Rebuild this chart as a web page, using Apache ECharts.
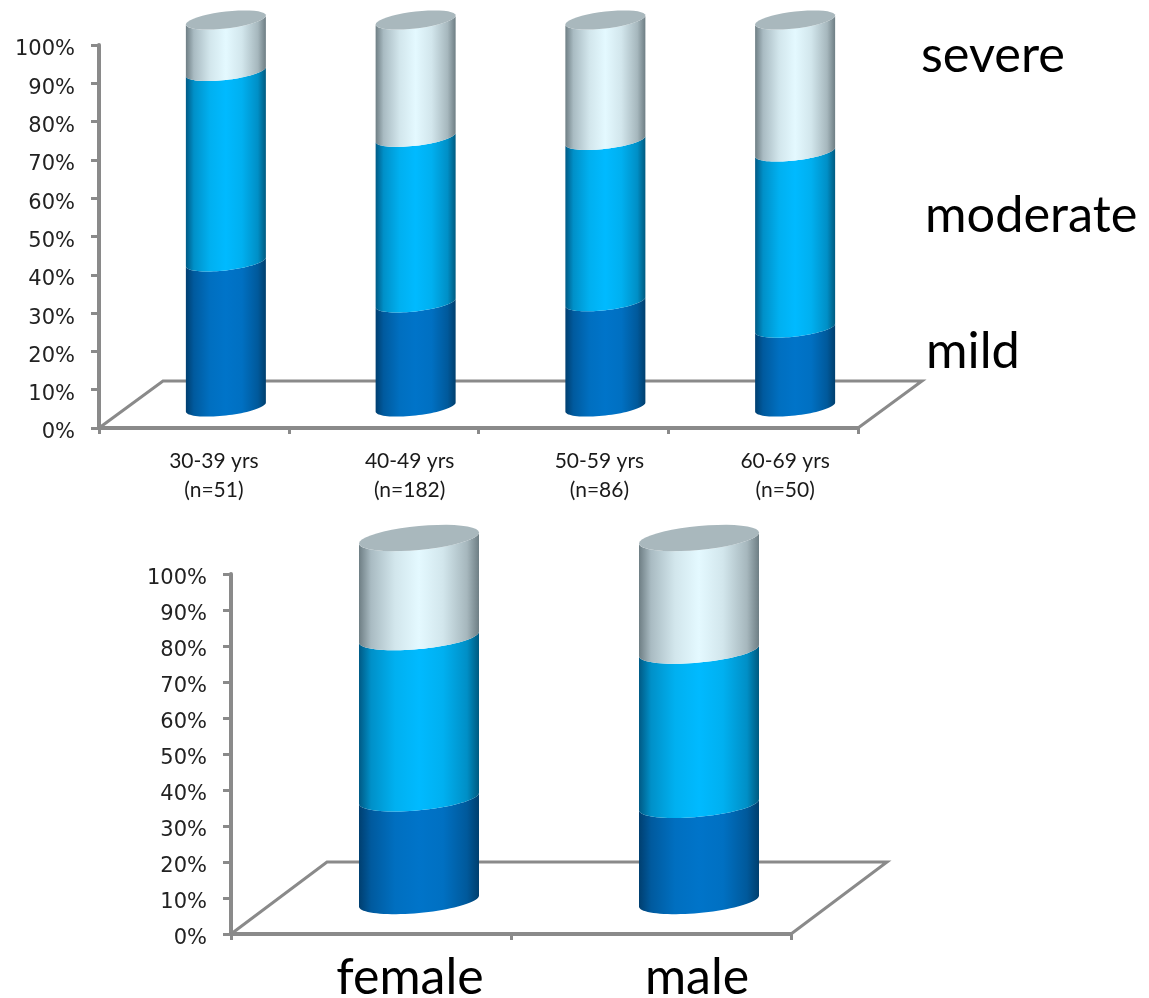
<!DOCTYPE html>
<html><head><meta charset="utf-8">
<style>html,body{margin:0;padding:0;background:#fff}#c{width:1149px;height:998px}</style>
<script src="https://cdn.jsdelivr.net/npm/echarts@6/dist/echarts.min.js"></script>
</head><body><div id="c"></div>
<script>
const ageLabels = ['30-39 yrs\n(n=51)','40-49 yrs\n(n=182)','50-59 yrs\n(n=86)','60-69 yrs\n(n=50)'];
const ageShift = [20,26,26,22];
const ageMild = [37.5,26.9,27.2,20.4];
const ageModerate = [49.2,42.8,41.7,45.5];
const ageSevere = [13.3,30.3,31.1,34.1];
const sexLabels = ['female','male'];
const sexShift = [39,46];
const sexMild = [28.3,26.5];
const sexModerate = [44.4,42.5];
const sexSevere = [27.3,31.0];
const yTicks = [0,10,20,30,40,50,60,70,80,90,100];
const legendNames = ['severe','moderate','mild'];

const ramps = {
  mild:['#003f70','#005a9e','#006fc0','#0074c9','#0070c2','#00599b','#003f6e'],
  moderate:['#005a85','#0090c8','#00b0f0','#00baff','#00b0f0','#008fc6','#005a80'],
  severe:['#6e7e84','#a9bbc2','#d2e6ec','#e4f9ff','#d2e6ec','#a6b7bd','#6e7e84']
};
const stops=[0,0.1,0.3,0.5,0.7,0.9,1];
const grad=k=>({type:'linear',x:0,y:0,x2:1,y2:0,colorStops:ramps[k].map((c,i)=>({offset:stops[i],color:c}))});

function arc(cx,cy,a,b,tilt,t0,t1){
  const pts=[];const N=40;
  for(let i=0;i<=N;i++){const t=t0+(t1-t0)*i/N;
    pts.push([cx+a*Math.cos(t),cy+b*Math.sin(t)-tilt*Math.cos(t)]);}
  return pts;
}
function build(gridIdx,labels,shifts,mild,moderate,severe,g){
  const stacks=labels.map((_,i)=>[mild[i],mild[i]+moderate[i],mild[i]+moderate[i]+severe[i]]);
  const segs=[['mild',0,mild],['moderate',1,moderate],['severe',2,severe]];
  const series=[];
  series.push({type:'custom',xAxisIndex:gridIdx,yAxisIndex:gridIdx,z:1,silent:true,data:[[0,0]],
    renderItem(p,api){
      const r=p.coordSys,y0=r.y+r.height;
      return {type:'polyline',shape:{points:[[r.x,y0],[r.x+g.dx,y0-g.dy],[r.x+r.width+g.dx,y0-g.dy],[r.x+r.width,y0]]},
        style:{fill:null,stroke:'#8a8a8a',lineWidth:3}};
    }});
  segs.forEach(([k,si,vals])=>{
    series.push({type:'custom',name:k,xAxisIndex:gridIdx,yAxisIndex:gridIdx,z:2+si,silent:true,
      data:vals.map((v,i)=>[i,stacks[i][si]-v,stacks[i][si]]),
      encode:{x:0,y:[1,2]},
      renderItem(p,api){
        const i=api.value(0),lo=api.coord([i,api.value(1)]),hi=api.coord([i,api.value(2)]);
        const base=api.coord([i,0])[1];
        const map=y=>base-g.baseUp-(base-y)*g.stretch;
        const cx=lo[0]+g.dx/2,yLo=map(lo[1]),yHi=map(hi[1]);
        const bottom=arc(cx,yLo,g.a,g.b,g.tilt,0,Math.PI);
        const top=arc(cx,yHi,g.a,g.b,g.tilt,Math.PI,0);
        const children=[{type:'polygon',shape:{points:bottom.concat(top)},style:{fill:grad(k)}}];
        if(k==='severe'){
          children.push({type:'polygon',shape:{points:arc(cx,yHi,g.a,g.b,g.tilt,0,2*Math.PI)},style:{fill:'#a9b8bd'}});
        }
        return {type:'group',children};
      }});
  });
  return series;
}
const axisGray='#8a8a8a';
function xAxis(i,labels,shifts,size,margin,lh,color){return {type:'category',gridIndex:i,
  data:labels.map((v,j)=>({value:v,textStyle:{padding:[0,0,0,2*shifts[j]]}})),
  axisLine:{lineStyle:{color:axisGray,width:4}},axisTick:{show:true,alignWithLabel:false,length:6,lineStyle:{color:axisGray,width:3}},
  axisLabel:{color,fontFamily:'Lato',fontSize:size,margin,lineHeight:lh,interval:0}};}
function yAxis(i,margin){return {type:'value',gridIndex:i,min:0,max:100,interval:10,splitLine:{show:false},
  axisLine:{show:true,lineStyle:{color:axisGray,width:4}},axisTick:{show:true,length:8,lineStyle:{color:axisGray,width:3}},
  axisLabel:{color:'#222',fontFamily:'DejaVu Sans',fontSize:21,margin,verticalAlign:'top',lineHeight:10,formatter:v=>yTicks.includes(v)?v+'%':''}};}

const g1={dx:64,dy:47,a:40,b:8.5,tilt:4.5,baseUp:21,stretch:3.87/3.83};
const g2={dx:96,dy:72,a:60,b:12,tilt:5.5,baseUp:33,stretch:3.63/3.60};
const chart=echarts.init(document.getElementById('c'),null,{renderer:'canvas'});
chart.setOption({
  animation:false,backgroundColor:'#fff',
  grid:[{left:99,top:45,width:759,height:383,outerBoundsMode:'none'},{left:231,top:574,width:560,height:360,outerBoundsMode:'none'}],
  xAxis:[xAxis(0,ageLabels,ageShift,21,19,29,'#1a1a1a'),xAxis(1,sexLabels,sexShift,50,14,60,'#000')],
  yAxis:[yAxis(0,24),yAxis(1,24)],
  series:[...build(0,ageLabels,ageShift,ageMild,ageModerate,ageSevere,g1),
          ...build(1,sexLabels,sexShift,sexMild,sexModerate,sexSevere,g2)],
  graphic:legendNames.map((n,i)=>({type:'text',left:[921,925,926][i],top:[30,190,326][i],
    style:{text:n,font:'50.5px Lato',fill:'#000'}}))
});
</script></body></html>
